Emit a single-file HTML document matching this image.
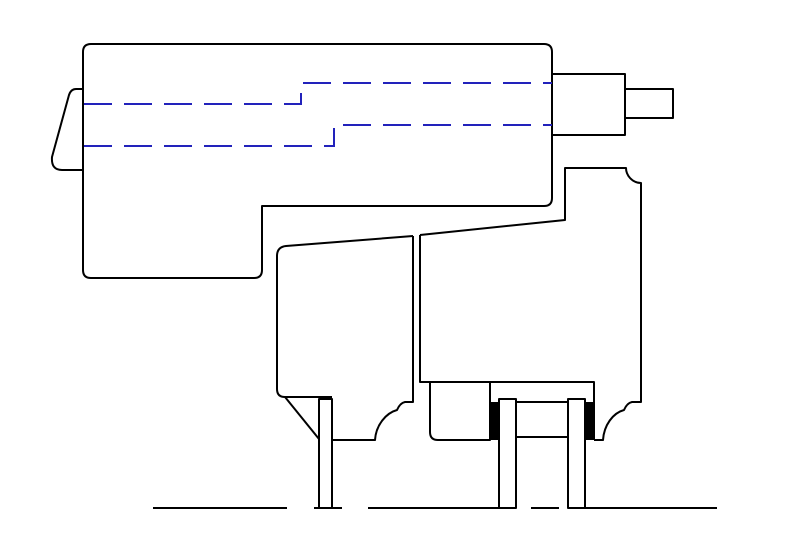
<!DOCTYPE html>
<html><head><meta charset="utf-8"><style>html,body{margin:0;padding:0;background:#fff}svg{display:block}</style></head>
<body>
<svg width="800" height="542" viewBox="0 0 800 542" xmlns="http://www.w3.org/2000/svg">
<g fill="none" stroke="#000" stroke-width="2" stroke-linejoin="round">
<path d="M91 44 H544 Q552 44 552 52 V198 Q552 206 544 206 H262 V270 Q262 278 254 278 H91 Q83 278 83 270 V52 Q83 44 91 44 Z"/>
<path d="M83 89 H76 Q71 89 69 95 L52 157 Q51 170 62 170 H83"/>
<rect x="552" y="74" width="73" height="61"/>
<rect x="625" y="89" width="48" height="29"/>
<path d="M413 236 L286 246 Q277 247 277 256 V389 Q277 397 285 397 H332"/>
<path d="M413 236 V402 H405 Q400 403 397 410 C386 413 376 425 375 440 H332"/>
<path d="M285 397 L319 439"/>
<rect x="319" y="399" width="13" height="109"/>
<path d="M420 235 L565 220 V168 H626 C626 175 632 183 641 183 V402 H632 Q627 403 624 410 C613 413 604 425 603 440 H594"/>
<path d="M420 235 V382 H594 V440"/>
<path d="M430 382 V432 Q430 440 438 440 H490 V382"/>
<rect x="499" y="399" width="17" height="109"/>
<rect x="568" y="399" width="17" height="109"/>
<path d="M516 402 H568 M516 437 H568"/>
<path d="M153 508 H287 M314 508 H342 M368 508 H499 M531 508 H559 M585 508 H717"/>
</g>
<rect x="490" y="402" width="9" height="38" fill="#000"/>
<rect x="585" y="402" width="9" height="38" fill="#000"/>
<g fill="none" stroke="#2222bb" stroke-width="2" stroke-dasharray="28,12">
<path d="M84 104 H301 V83 H552"/>
<path d="M84 146 H334 V125 H552"/>
</g>
</svg>
</body></html>
